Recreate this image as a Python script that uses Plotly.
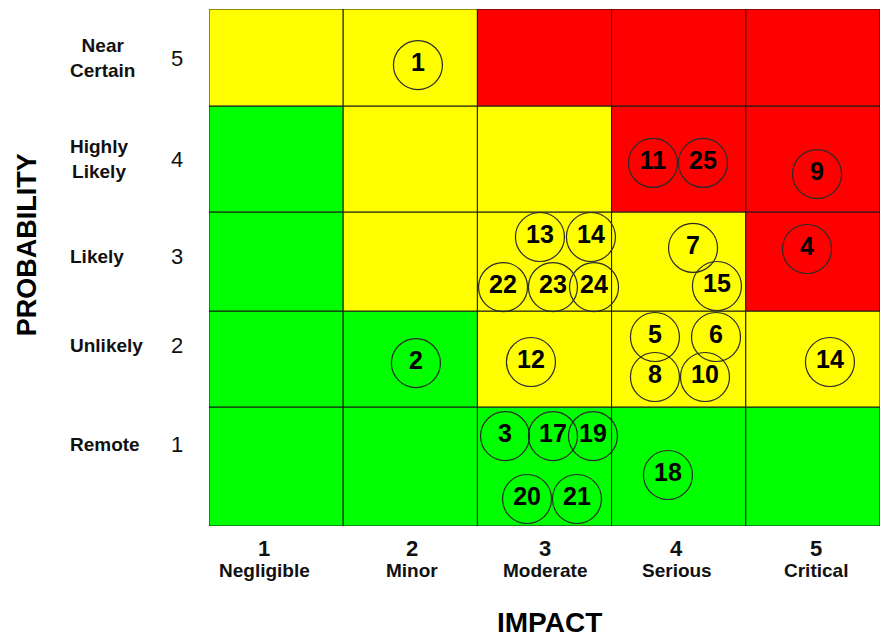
import plotly.graph_objects as go

# ---------------- data ----------------
impact_numbers = ["1", "2", "3", "4", "5"]
impact_labels = ["Negligible", "Minor", "Moderate", "Serious", "Critical"]
probability_numbers = ["1", "2", "3", "4", "5"]
probability_labels = ["Remote", "Unlikely", "Likely", "Highly<br>Likely", "Near<br>Certain"]

# risk level per cell, rows = probability 1..5, cols = impact 1..5
# 0 = low (green), 1 = medium (yellow), 2 = high (red)
risk_levels = [
    [0, 0, 0, 0, 0],
    [0, 0, 1, 1, 1],
    [0, 1, 1, 1, 2],
    [0, 1, 1, 2, 2],
    [1, 1, 2, 2, 2],
]

# risk items: id, position on impact axis, position on probability axis
risk_ids = ["1", "2", "3", "17", "19", "20", "21", "12", "13", "14", "22", "23", "24",
            "5", "6", "8", "10", "7", "15", "11", "25", "9", "4", "14", "18"]
risk_impact = [2.057, 2.042, 2.706, 3.063, 3.361, 2.870, 3.242, 2.899, 2.966, 3.346,
               2.691, 3.063, 3.369, 3.823, 4.278, 3.823, 4.196, 4.107, 4.285, 3.808,
               4.181, 5.031, 4.956, 5.127, 3.920]
risk_prob = [4.958, 2.076, 1.370, 1.370, 1.370, 0.761, 0.761, 2.086, 3.295, 3.295,
             2.811, 2.811, 2.811, 2.328, 2.328, 1.941, 1.941, 3.189, 2.821, 4.011,
             4.011, 3.904, 3.179, 2.086, 0.993]

# ---------------- layout constants ----------------
level_colors = {0: "#00FF00", 1: "#FFFF00", 2: "#FF0000"}
col_edges = [0.5, 1.5, 2.5, 3.5, 4.5, 5.5]
row_edges = [0.5, 1.651, 2.579, 3.537, 4.562, 5.5]
prob_label_y = [1.292, 2.241, 3.102, 4.046, 5.026]
impact_label_shift = [-12, 2, 0, -2, 3]

FONT = "Arial, Liberation Sans, sans-serif"

fig = go.Figure()

shapes = []
for r in range(5):
    for c in range(5):
        shapes.append(dict(
            type="rect", xref="x", yref="y",
            x0=col_edges[c], x1=col_edges[c + 1],
            y0=row_edges[r], y1=row_edges[r + 1],
            fillcolor=level_colors[risk_levels[r][c]],
            line=dict(color="#1a1a1a", width=1),
            layer="below",
        ))

fig.add_trace(go.Scatter(
    x=risk_impact, y=risk_prob, text=risk_ids,
    mode="markers+text", textposition="middle center",
    marker=dict(size=49, color="rgba(0,0,0,0)",
                line=dict(color="#2a2a2a", width=1.2)),
    textfont=dict(family=FONT, size=25, color="#000000", weight="bold"),
    hoverinfo="skip", showlegend=False, cliponaxis=False,
))

annotations = []
# probability labels
for i in range(5):
    annotations.append(dict(
        x=-0.210, xref="paper", y=prob_label_y[i], yref="y",
        text="<b>" + probability_labels[i] + "</b>", showarrow=False,
        xanchor="left", yanchor="middle", align="center",
        font=dict(family=FONT, size=19, color="#111111"),
    ))
    annotations.append(dict(
        x=-0.0477, xref="paper", y=prob_label_y[i], yref="y",
        text=probability_numbers[i], showarrow=False,
        xanchor="center", yanchor="middle",
        font=dict(family=FONT, size=22, color="#111111"),
    ))
# impact labels
for i in range(5):
    annotations.append(dict(
        x=i + 1, xref="x", y=-0.0426, yref="paper", xshift=impact_label_shift[i],
        text="<b>" + impact_numbers[i] + "</b>", showarrow=False,
        xanchor="center", yanchor="middle",
        font=dict(family=FONT, size=22, color="#111111"),
    ))
    annotations.append(dict(
        x=i + 1, xref="x", y=-0.086, yref="paper", xshift=impact_label_shift[i],
        text="<b>" + impact_labels[i] + "</b>", showarrow=False,
        xanchor="center", yanchor="middle",
        font=dict(family=FONT, size=19, color="#111111"),
    ))
# axis titles
annotations.append(dict(
    x=-0.271, xref="paper", y=0.5435, yref="paper", text="<b>PROBABILITY</b>",
    textangle=-90, showarrow=False, xanchor="center", yanchor="middle",
    font=dict(family=FONT, size=27, color="#000000"),
))
annotations.append(dict(
    x=0.508, xref="paper", y=-0.186, yref="paper", text="<b>IMPACT</b>",
    showarrow=False, xanchor="center", yanchor="middle",
    font=dict(family=FONT, size=28, color="#000000"),
))

fig.update_layout(
    width=880, height=638,
    margin=dict(l=209, r=0, t=9, b=112),
    paper_bgcolor="#FFFFFF", plot_bgcolor="#FFFFFF",
    shapes=shapes, annotations=annotations,
    xaxis=dict(range=[0.5, 5.5], showgrid=False, zeroline=False,
               showticklabels=False, ticks="", fixedrange=True),
    yaxis=dict(range=[0.5, 5.5], showgrid=False, zeroline=False,
               showticklabels=False, ticks="", fixedrange=True),
    showlegend=False,
)

fig.write_html(
    "out.html",
    config={"displayModeBar": False},
    post_script="document.body.style.margin='0';"
                "document.documentElement.style.overflow='hidden';"
                "document.body.style.overflow='hidden';",
)
